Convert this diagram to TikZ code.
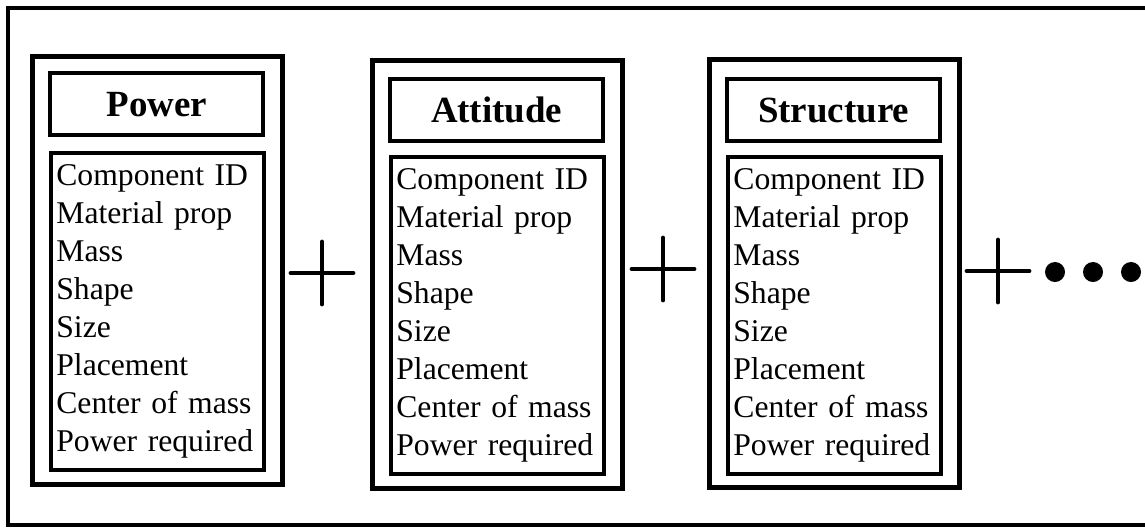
\documentclass[tikz,border=0pt]{standalone}
\usepackage{fontspec}
\setmainfont{Liberation Serif}
\tikzset{
  frame/.style = {line width = 1.2pt},
  subbox/.style = {draw, line width = 1.3pt, minimum width = 2.5cm, minimum height = 4.28cm, anchor = north west, inner sep = 0pt},
  titlebox/.style = {draw, line width = 1.2pt, minimum width = 2.13cm, minimum height = 0.62cm, anchor = north west, inner sep = 0pt, font = \fontsize{10.5}{12}\selectfont\bfseries},
  listbox/.style = {draw, line width = 1.2pt, minimum height = 3.14cm, text width = 2.13cm - 3pt, inner xsep = 1.5pt, align = left, anchor = north west, font = \fontsize{9}{10.8}\selectfont},
  plussign/.style = {line width = 1.4pt, line cap = round}
}
\begin{document}
\begin{tikzpicture}[x = 0.01cm, y = -0.01cm]
            \useasboundingbox (0,0) rectangle (1145,527);
            \draw[frame] (8,8) rectangle (1170,525);
            % one column per subsystem
            \foreach \n/\x/\top/\ttop/\ltop/\title in {power/30/54/71/151/Power, attitude/370/58/77/155/Attitude, structure/707/57/77/155/Structure} {
                \node[subbox] (\n) at (\x,\top) {};
                \node[titlebox] (\n-title) at (\x+18,\ttop) {\title};
                \node[listbox] (\n-list) at (\x+19,\ltop) {Component ID\\Material prop\\Mass\\Shape\\Size\\Placement\\Center of mass\\Power required};
            }
            \foreach \px/\py in {322/273, 663/269, 998/271} {
                \draw[plussign] (\px-31,\py) -- (\px+31,\py) (\px,\py-31) -- (\px,\py+31);
            }
            \foreach \dx in {1055, 1093, 1131} {
                \fill (\dx,272) circle (0.1cm);
            }
        \end{tikzpicture}
\end{document}
